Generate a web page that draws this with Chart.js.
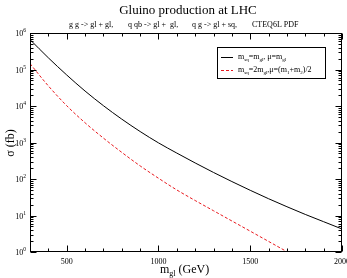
<!DOCTYPE html>
<html><head><meta charset="utf-8">
<script src="https://cdn.jsdelivr.net/npm/chart.js@4/dist/chart.umd.min.js"></script>
<style>html,body{margin:0;padding:0;background:#fff;overflow:hidden}#c{display:block}</style>
</head><body>
<canvas id="c" width="347" height="278"></canvas>
<script>
const masses = [300,400,500,600,700,800,900,1000,1100,1200,1300,1400,1500,1600,1700,1800,1900,2000];
const sigmaEqual = [661000,209000,70800,25700,10200,4370,2000,977,513,275,151,85.1,49.0,28.8,17.4,10.7,6.76,4.27];
const sigmaHeavy = [145000,35500,10200,3470,1320,537,229,105,50.1,25.7,13.5,7.08,3.72,1.95,1.02,0.537];
const xTickValues = [500,1000,1500,2000];
const yTickExponents = [0,1,2,3,4,5,6];
const titleText = 'Gluino production at LHC';
const subtitleParts = ['g g -> gl + gl,', 'q qb -> gl +  gl,', 'q g -> gl + sq,', 'CTEQ6L PDF'];
const SERIF = '"Liberation Serif","Times New Roman",serif';

function drawRich(ctx, x, y, segs, size, align) {
  const small = Math.round(size * 0.68);
  const widths = segs.map(([t,k]) => { ctx.font = (k==='n'?size:small)+'px '+SERIF; return ctx.measureText(t).width; });
  const total = widths.reduce((a,b)=>a+b,0);
  let cx = align==='center' ? x - total/2 : align==='right' ? x - total : x;
  ctx.textAlign = 'left'; ctx.textBaseline = 'alphabetic';
  segs.forEach(([t,k],i) => {
    ctx.font = (k==='n'?size:small)+'px '+SERIF;
    const dy = k==='sub' ? size*0.25 : k==='sup' ? -size*0.45 : 0;
    ctx.fillText(t, cx, y+dy);
    cx += widths[i];
  });
  return total;
}

const decor = {
  id:'decor',
  afterDraw(chart){
    const ctx = chart.ctx, a = chart.chartArea, xs = chart.scales.x, ys = chart.scales.y;
    ctx.save();
    ctx.strokeStyle = '#000'; ctx.fillStyle = '#000'; ctx.lineWidth = 1;
    ctx.strokeRect(Math.round(a.left)+0.5, Math.round(a.top)+0.5, Math.round(a.right-a.left)-1, Math.round(a.bottom-a.top)-1);
    const L = Math.round(a.left)+0.5, R = Math.round(a.right)-0.5, T = Math.round(a.top)+0.5, B = Math.round(a.bottom)-0.5;
    ctx.beginPath();
    for (let v = 300; v <= 2000; v += 100) {
      const px = Math.round(xs.getPixelForValue(v))+0.5;
      const len = v % 500 === 0 ? 6 : 3;
      ctx.moveTo(px, B); ctx.lineTo(px, B-len);
      ctx.moveTo(px, T); ctx.lineTo(px, T+len);
    }
    for (let e = 0; e <= 6; e++) {
      for (let m = 1; m <= 9; m++) {
        if (e === 6 && m > 1) break;
        const py = Math.round(ys.getPixelForValue(m*Math.pow(10,e)))+0.5;
        const len = m === 1 ? 6 : 3;
        ctx.moveTo(L, py); ctx.lineTo(L+len, py);
        ctx.moveTo(R, py); ctx.lineTo(R-len, py);
      }
    }
    ctx.stroke();
    ctx.font = '8px '+SERIF; ctx.textAlign='center'; ctx.textBaseline='alphabetic';
    xTickValues.forEach(v => ctx.fillText(String(v), xs.getPixelForValue(v), 264));
    yTickExponents.forEach(e => {
      const py = ys.getPixelForValue(Math.pow(10,e));
      ctx.font='5.5px '+SERIF;
      const w5 = ctx.measureText(String(e)).width;
      ctx.font = '8px '+SERIF; ctx.textAlign='right';
      ctx.fillText('10', 26 - w5, py+3);
      ctx.font = '5.5px '+SERIF; ctx.textAlign='left';
      ctx.fillText(String(e), 26 - w5, py-1);
    });
    ctx.font = '13px '+SERIF; ctx.textAlign='center';
    ctx.fillText(titleText, 188, 14);
    ctx.font = '8px '+SERIF; ctx.textAlign='left';
    const subX = [69, 128, 192, 252];
    subtitleParts.forEach((t,i)=>ctx.fillText(t, subX[i], 27));
    drawRich(ctx, 160, 273, [['m','n'],['gl','sub'],[' (GeV)','n']], 12, 'left');
    ctx.save();
    ctx.translate(14, 143); ctx.rotate(-Math.PI/2);
    ctx.font = '12px '+SERIF; ctx.textAlign='center';
    ctx.fillText('\u03c3 (fb)', 0, 0);
    ctx.restore();
    ctx.fillStyle = '#fff';
    ctx.fillRect(217, 47, 108, 31);
    ctx.strokeStyle = '#000';
    ctx.strokeRect(217.5, 47.5, 108, 31);
    ctx.beginPath(); ctx.moveTo(221, 57.5); ctx.lineTo(233, 57.5); ctx.stroke();
    ctx.save(); ctx.strokeStyle = '#e8191e'; ctx.setLineDash([3,2]);
    ctx.beginPath(); ctx.moveTo(221, 70.5); ctx.lineTo(233, 70.5); ctx.stroke(); ctx.restore();
    ctx.fillStyle = '#000';
    drawRich(ctx, 238, 59, [['m','n'],['sq','sub'],['=m','n'],['gl','sub'],[', \u03bc=m','n'],['gl','sub']], 8, 'left');
    drawRich(ctx, 238, 72, [['m','n'],['sq','sub'],['=2m','n'],['gl','sub'],[',\u03bc=(m','n'],['1','sub'],['+m','n'],['2','sub'],[')/2','n']], 8, 'left');
    ctx.restore();
  }
};

new Chart(document.getElementById('c'), {
  type: 'line',
  data: {
    datasets: [
      { data: masses.map((m,i)=>({x:m, y:sigmaEqual[i]})), borderColor:'#000', borderWidth:1, pointRadius:0, cubicInterpolationMode:'monotone', fill:false },
      { data: masses.slice(0, sigmaHeavy.length).map((m,i)=>({x:m, y:sigmaHeavy[i]})), borderColor:'#e8191e', borderWidth:1, borderDash:[3,2], pointRadius:0, cubicInterpolationMode:'monotone', fill:false }
    ]
  },
  options: {
    responsive:false, animation:false, devicePixelRatio:1,
    layout:{ padding:{ top:33, right:5, left:0, bottom:0 } },
    plugins:{ legend:{display:false}, tooltip:{enabled:false}, title:{display:false} },
    scales:{
      x:{ type:'linear', min:300, max:2000, ticks:{display:false}, grid:{display:false}, border:{display:false},
          afterFit(s){ s.height = 26; s.paddingLeft = 0; s.paddingRight = 0; } },
      y:{ type:'logarithmic', min:1, max:1e6, ticks:{display:false}, grid:{display:false}, border:{display:false},
          afterFit(s){ s.width = 30; s.paddingTop = 0; s.paddingBottom = 0; } }
    }
  },
  plugins:[decor]
});
</script>
</body></html>
